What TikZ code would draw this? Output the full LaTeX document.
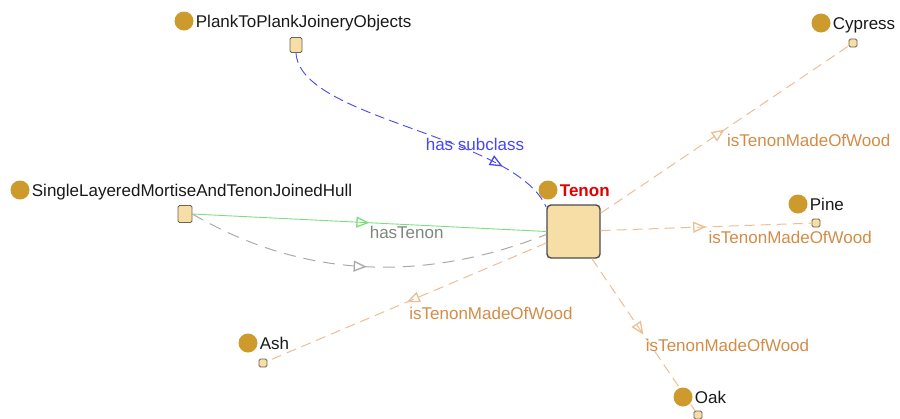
\documentclass[tikz,border=0pt]{standalone}
\usepackage{fontspec}
\setmainfont{Liberation Sans}
\usepackage{xcolor}
\usetikzlibrary{arrows.meta,positioning,decorations.markings}

\definecolor{boxfill}{RGB}{246,222,166}
\definecolor{boxline}{RGB}{110,100,80}
\definecolor{dotgold}{RGB}{205,155,45}
\definecolor{woodline}{RGB}{236,190,146}
\definecolor{woodtext}{RGB}{210,140,70}
\definecolor{subblue}{RGB}{70,70,250}
\definecolor{hasgreen}{RGB}{125,222,125}
\definecolor{hastext}{RGB}{125,135,125}
\definecolor{inferredgray}{RGB}{170,170,170}
\definecolor{tenonred}{RGB}{225,0,0}

\tikzset{
  dot/.style={circle,fill=dotgold,minimum size=19pt,inner sep=0pt},
  lbl/.style={text height=12pt,text depth=0pt,inner sep=0pt,text=black!90},
  classbox/.style={draw=boxline,fill=boxfill,rounded corners=1.5pt,line width=0.8pt,inner sep=0pt},
  woodbox/.style={classbox,minimum width=8pt,minimum height=8pt},
  midarrow/.style 2 args={postaction={decorate,draw=#2,decoration={markings,
    mark=at position #1 with {\arrow{Triangle[open,length=13pt,width=11pt,line width=1.3pt]}}}}},
  woodedge/.style={draw=woodline,line width=1pt,dash pattern=on 10pt off 6pt,midarrow={0.5}{woodtext}},
  woodlbl/.style={pos=0.5,anchor=base west,xshift=2pt,yshift=-17pt,text=woodtext,inner sep=0pt}
}

\begin{document}
\begin{tikzpicture}[x=1pt,y=-1pt,font=\fontsize{17}{20}\selectfont]
\useasboundingbox (0,0) rectangle (900,418);
% classes
\node[classbox,minimum width=53pt,minimum height=53pt,draw=black!70,line width=1.4pt,rounded corners=4pt] (tenon) at (573.5,231.5) {};
\node[classbox,minimum width=12pt,minimum height=15pt] (plank) at (296,45) {};
\node[classbox,minimum width=14pt,minimum height=17pt] (hull) at (185,214) {};
\node[woodbox] (cypress) at (853,43) {};
\node[woodbox] (pine) at (816,223) {};
\node[woodbox] (ash) at (263,363) {};
\node[woodbox] (oak) at (698,415) {};
% edges
\draw[draw=subblue,line width=0.9pt,dash pattern=on 10pt off 5pt,midarrow={0.8}{subblue}]
  (plank.south) .. controls (300,120) and (515,135) .. ([yshift=-3pt]tenon.north west)
  node[pos=0.75,anchor=base east,xshift=30pt,yshift=12pt,text=subblue,inner sep=0pt] (subLbl) {has subclass};
\draw[draw=hasgreen,line width=0.9pt,midarrow={0.5}{hasgreen!80!black}] (hull.east) -- (tenon.west)
  node[pos=0.5,anchor=base west,yshift=-16pt,text=hastext,inner sep=0pt] (hasLbl) {hasTenon};
\draw[draw=inferredgray,line width=1pt,dash pattern=on 12pt off 8pt,midarrow={0.5}{inferredgray!85!black}]
  (hull.east) .. controls (307,281) and (428,281) .. ([yshift=-3pt]tenon.west);
\draw[woodedge] (tenon) -- (cypress) node[woodlbl] (cypressEdge) {isTenonMadeOfWood};
\draw[woodedge] (tenon) -- (pine) node[woodlbl] (pineEdge) {isTenonMadeOfWood};
\draw[woodedge] (tenon) -- (oak) node[woodlbl] (oakEdge) {isTenonMadeOfWood};
\draw[woodedge] (tenon) -- (ash) node[woodlbl] (ashEdge) {isTenonMadeOfWood};
% names
\node[dot] (tenonDot) at (548,190) {};
\node[lbl,right=2pt of tenonDot,text=tenonred,font=\fontsize{17}{20}\selectfont\bfseries] (tenonLbl) {Tenon};
\node[dot] (plankDot) at (184,21) {};
\node[lbl,right=2pt of plankDot] (plankLbl) {PlankToPlankJoineryObjects};
\node[dot] (hullDot) at (20,190) {};
\node[lbl,right=2pt of hullDot] (hullLbl) {SingleLayeredMortiseAndTenonJoinedHull};
\node[dot] (cypressDot) at (821,23) {};
\node[lbl,right=2pt of cypressDot] (cypressLbl) {Cypress};
\node[dot] (pineDot) at (798,204) {};
\node[lbl,right=2pt of pineDot] (pineLbl) {Pine};
\node[dot] (ashDot) at (248,343) {};
\node[lbl,right=2pt of ashDot] (ashLbl) {Ash};
\node[dot] (oakDot) at (683,397) {};
\node[lbl,right=2pt of oakDot] (oakLbl) {Oak};
\end{tikzpicture}
\end{document}
